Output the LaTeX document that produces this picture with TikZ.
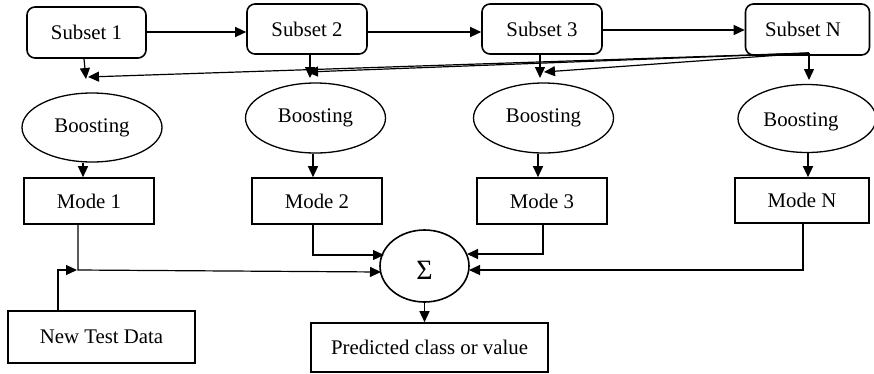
\documentclass[tikz,border=0pt]{standalone}
\usepackage{fontspec}
\setmainfont{Liberation Serif}
\usetikzlibrary{shapes.geometric,arrows.meta,calc}
\begin{document}
\begin{tikzpicture}[x=1pt,y=-1pt,
  every node/.style={font=\fontsize{20.8}{24}\selectfont, inner sep=0pt},
  subsetbox/.style={draw, line width=1.6pt, rounded corners=8pt, minimum width=120pt, minimum height=50pt},
  modebox/.style={draw, line width=1.6pt, minimum width=130pt, minimum height=46pt},
  boost/.style={draw, ellipse, line width=1.3pt, minimum width=140pt, minimum height=69pt},
  arr/.style={line width=1.2pt, -{Triangle[length=11pt,width=10pt]}},
  ln/.style={line width=1.2pt}]
\useasboundingbox (0,0) rectangle (874,373);
% subsets
\node[subsetbox, minimum width=119pt, minimum height=51pt] (s1) at (86.5,32.5) {Subset 1};
\node[subsetbox] (s2) at (307,29) {Subset 2};
\node[subsetbox] (s3) at (542,29) {Subset 3};
\node[subsetbox, minimum width=124pt, minimum height=51pt] (sN) at (807.5,29.5) {};
\node (sNt) at (803,29.5) {Subset N};
% boosting ellipses
\node[boost] (e1) at (92,127.5) {Boosting};
\node[boost, minimum height=70pt] (e2) at (315.5,118) {Boosting};
\node[boost, minimum height=70pt] (e3) at (543.5,118) {Boosting};
\node[boost, minimum width=138pt, minimum height=68pt] (eN) at (807,118.5) {};
\node (eNt) at (801,122) {Boosting};
% modes
\node[modebox] (m1) at (89,201) {Mode 1};
\node[modebox] (m2) at (317,201) {Mode 2};
\node[modebox] (m3) at (542,201) {Mode 3};
\node[modebox, minimum width=134pt, minimum height=45pt] (mN) at (802,200.5) {Mode N};
% sum
\node[draw, ellipse, line width=1.6pt, minimum width=89pt, minimum height=72pt] (sig) at (424.5,266) {};
\node[font=\fontsize{28}{30}\selectfont] (sigt) at (424.5,270) {Σ};
% bottom boxes
\node[modebox, minimum width=187pt, minimum height=52pt] (nt) at (101.5,337) {New Test Data};
\node[modebox, minimum width=237pt, minimum height=49pt] (pr) at (429.5,347.5) {Predicted class or value};
% coordinates
\coordinate (x1) at (84,0);
\coordinate (x2) at (310,0);
\coordinate (x3) at (540,0);
\coordinate (c1) at (86,79);
\coordinate (c2) at (310,78);
\coordinate (c3) at (540,78);
\coordinate (cN) at (809,80);
\coordinate (nN) at (809,53);
\coordinate (t1) at (88,77);
\coordinate (t2) at (307,72);
\coordinate (t3) at (544,72);
\coordinate (y1) at (83,0);
\coordinate (y2) at (313,0);
\coordinate (y3) at (538,0);
\coordinate (y4) at (808,0);
\coordinate (z1) at (78,0);
\coordinate (z2) at (313,0);
\coordinate (z3) at (543,0);
\coordinate (z4) at (803,0);
\coordinate (j1) at (78,270);
\coordinate (a1) at (381,272);
\coordinate (a2) at (384,255);
\coordinate (a3) at (467,254);
\coordinate (a4) at (469,270);
\coordinate (xn) at (58,0);
% subset chain
\draw[arr] ([yshift=0.5pt]s1.east) -- ([yshift=0.5pt]s1.east -| s2.west);
\draw[arr] ([yshift=-3pt]s2.east) -- ([yshift=-3pt]s2.east -| s3.west);
\draw[arr] ([yshift=-1pt]s3.east) -- ([yshift=-1pt]s3.east -| sN.west);
% subsets down
\draw[arr] (s1.south -| x1) -- (c1);
\draw[arr] (s2.south -| x2) -- (c2);
\draw[arr] (s3.south -| x3) -- (c3);
\draw[arr] (nN) -- (cN);
% long lines from subset N
\draw[arr] (nN) -- (t1);
\draw[arr] (nN) -- (t2);
\draw[arr] (nN) -- (t3);
% boosting to modes
\draw[arr] (e1.south -| y1) -- (m1.north -| y1);
\draw[arr] (e2.south -| y2) -- (m2.north -| y2);
\draw[arr] (e3.south -| y3) -- (m3.north -| y3);
\draw[arr] (eN.south -| y4) -- (mN.north -| y4);
% modes to sum
\draw[arr] (m1.south -| z1) -- (j1) -- (a1);
\draw[arr] (nt.north -| xn) |- ([xshift=-1pt]j1);
\draw[arr] (m2.south -| z2) |- (a2);
\draw[arr] (m3.south -| z3) |- (a3);
\draw[arr] (mN.south -| z4) |- (a4);
% sum to prediction
\draw[arr] (sig.south) -- (sig.south |- pr.north);
\end{tikzpicture}
\end{document}
